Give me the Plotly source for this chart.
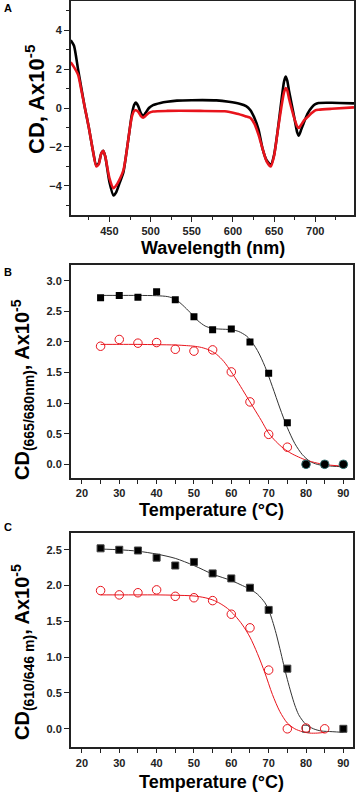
import plotly.graph_objects as go

# ---------------- Panel A: CD spectra ----------------
wl_black = [403, 407, 412, 416, 420, 425, 430, 434, 437, 440, 442.5, 445, 450, 455, 458, 462, 467, 470, 474, 477,
            480, 482, 485, 488, 491, 494, 498, 503, 512, 520, 532, 550, 580, 595, 608, 616, 621, 626, 631, 636,
            641, 646, 650, 655, 659, 662, 664, 666, 668, 671, 675, 678, 680, 683, 687, 691, 696, 700, 704, 720, 747]
cd_black = [3.48, 3.2, 1.97, 1.0, 0.05, -1.0, -2.2, -2.95, -2.85, -2.35, -2.2, -2.5, -3.8, -4.5, -4.35, -3.9, -3.3,
            -2.5, -1.3, -0.4, 0.15, 0.28, 0.1, -0.25, -0.42, -0.25, 0.0, 0.15, 0.26, 0.32, 0.38, 0.4, 0.39, 0.32,
            0.22, 0.1, -0.1, -0.5, -1.1, -2.1, -2.7, -2.92, -2.4, -0.95, 0.43, 1.35, 1.62, 1.4, 0.9, 0.26, -0.6,
            -1.25, -1.42, -1.1, -0.65, -0.26, 0.05, 0.2, 0.26, 0.27, 0.24]

wl_red = [403, 407, 412, 416, 420, 425, 430, 434, 437, 440, 442.5, 445, 450, 455, 458, 462, 467, 470, 474, 477,
          480, 482, 485, 488, 491, 494, 498, 503, 520, 560, 590, 605, 615, 621, 626, 631, 636, 641, 646, 650,
          655, 659, 662, 664, 666, 668, 671, 675, 678, 680, 683, 687, 691, 696, 700, 704, 720, 747]
cd_red = [2.35, 2.1, 1.71, 0.9, 0.05, -1.0, -2.2, -3.0, -2.9, -2.35, -2.2, -2.5, -3.6, -4.12, -4.0, -3.7, -3.2,
          -2.5, -1.3, -0.5, -0.15, -0.12, -0.2, -0.4, -0.5, -0.4, -0.25, -0.18, -0.15, -0.15, -0.17, -0.3,
          -0.42, -0.5, -0.8, -1.37, -2.1, -2.75, -3.0, -2.45, -1.0, 0.1, 0.8, 1.03, 0.9, 0.5, 0.0, -0.6, -0.95,
          -1.03, -0.85, -0.6, -0.45, -0.25, -0.12, -0.09, -0.04, 0.03]

# ---------------- Panel B: CD(665/680nm) vs temperature ----------------
temp = [25, 30, 35, 40, 45, 50, 55, 60, 65, 70, 75, 80, 85, 90]
b_black = [2.72, 2.76, 2.73, 2.82, 2.69, 2.41, 2.20, 2.21, 2.00, 1.49, 0.68, 0.0, 0.0, 0.0]
b_red = [1.93, 2.04, 1.98, 1.99, 1.88, 1.85, 1.87, 1.51, 1.02, 0.49, 0.28, 0.0, 0.0, 0.0]

b_fit_black_t = [25, 30, 35, 40, 43, 45, 47, 49, 51, 53, 55, 57, 60, 62, 64, 65, 67, 69, 71, 73, 75, 77, 79, 81,
                 83, 85, 87, 90]
b_fit_black = [2.76, 2.76, 2.76, 2.755, 2.74, 2.70, 2.6, 2.48, 2.35, 2.26, 2.22, 2.21, 2.20, 2.17, 2.1, 2.04,
               1.86, 1.6, 1.27, 0.92, 0.6, 0.34, 0.16, 0.05, 0.0, -0.02, -0.03, -0.04]
b_fit_red_t = [25, 30, 35, 40, 45, 48, 50, 52, 54, 56, 58, 60, 62, 64, 66, 68, 70, 72, 74, 76, 78, 80, 83, 86, 90]
b_fit_red = [1.96, 1.96, 1.96, 1.955, 1.95, 1.94, 1.93, 1.91, 1.87, 1.8, 1.68, 1.51, 1.32, 1.12, 0.92, 0.72,
             0.51, 0.37, 0.26, 0.18, 0.12, 0.07, 0.02, -0.01, -0.03]

# ---------------- Panel C: CD(610/646 nm) vs temperature ----------------
c_black_t = [25, 30, 35, 40, 45, 50, 55, 60, 65, 70, 75, 80, 90]
c_black = [2.52, 2.50, 2.49, 2.39, 2.28, 2.33, 2.17, 2.10, 1.97, 1.66, 0.84, 0.0, 0.0]
c_red_t = [25, 30, 35, 40, 45, 50, 55, 60, 65, 70, 75, 80, 85]
c_red = [1.93, 1.87, 1.90, 1.94, 1.85, 1.83, 1.79, 1.60, 1.41, 0.82, 0.0, 0.01, 0.0]

c_fit_black_t = [25, 30, 35, 40, 45, 50, 55, 60, 63, 65, 67, 69, 70, 71, 72, 73, 74, 75, 76, 77, 78, 79, 80,
                 82, 84, 87, 90]
c_fit_black = [2.51, 2.50, 2.48, 2.44, 2.38, 2.28, 2.16, 2.07, 2.0, 1.95, 1.88, 1.76, 1.66, 1.51, 1.33, 1.12,
               0.9, 0.69, 0.5, 0.33, 0.2, 0.12, 0.06, 0.0, -0.03, -0.04, -0.05]
c_fit_red_t = [25, 30, 35, 40, 45, 50, 53, 55, 57, 59, 61, 63, 65, 67, 69, 71, 73, 75, 77, 79, 81, 83, 85]
c_fit_red = [1.87, 1.87, 1.87, 1.87, 1.865, 1.855, 1.83, 1.80, 1.75, 1.68, 1.58, 1.45, 1.28, 1.05, 0.78, 0.48,
             0.24, 0.08, 0.0, -0.04, -0.06, -0.06, -0.05]

W, H = 356, 792
FONT = "Liberation Sans"
RED = "#e8141c"

def dom_x(a, b):
    return [a / W, b / W]

def dom_y(top, bottom):
    return [1 - bottom / H, 1 - top / H]

fig = go.Figure()

# Panel A traces
fig.add_trace(go.Scatter(x=wl_black, y=cd_black, mode="lines", xaxis="x", yaxis="y",
                         line=dict(color="black", width=2.6, shape="spline", smoothing=0.6), showlegend=False))
fig.add_trace(go.Scatter(x=wl_red, y=cd_red, mode="lines", xaxis="x", yaxis="y",
                         line=dict(color=RED, width=2.6, shape="spline", smoothing=0.6), showlegend=False))

# Panel B traces
fig.add_trace(go.Scatter(x=b_fit_black_t, y=b_fit_black, mode="lines", xaxis="x2", yaxis="y2",
                         line=dict(color="#333333", width=1, shape="spline", smoothing=0.8), showlegend=False))
fig.add_trace(go.Scatter(x=b_fit_red_t, y=b_fit_red, mode="lines", xaxis="x2", yaxis="y2",
                         line=dict(color=RED, width=1, shape="spline", smoothing=0.8), showlegend=False))
fig.add_trace(go.Scatter(x=temp, y=b_black, mode="markers", xaxis="x2", yaxis="y2",
                         marker=dict(symbol="square", size=7, color="black"), showlegend=False))
b_red_fill = ["rgba(0,0,0,0)" if t < 80 else "black" for t in temp]
b_red_edge = [RED if t < 80 else "#2f7070" for t in temp]
fig.add_trace(go.Scatter(x=temp, y=b_red, mode="markers", xaxis="x2", yaxis="y2",
                         marker=dict(symbol="circle", size=8.5, color=b_red_fill,
                                     line=dict(color=b_red_edge, width=1)), showlegend=False))

# Panel C traces
fig.add_trace(go.Scatter(x=c_fit_black_t, y=c_fit_black, mode="lines", xaxis="x3", yaxis="y3",
                         line=dict(color="#333333", width=1, shape="spline", smoothing=0.8), showlegend=False))
fig.add_trace(go.Scatter(x=c_fit_red_t, y=c_fit_red, mode="lines", xaxis="x3", yaxis="y3",
                         line=dict(color=RED, width=1, shape="spline", smoothing=0.8), showlegend=False))
c_black_sym = ["square-open" if t == 80 else "square" for t in c_black_t]
c_black_col = ["#555555" if t == 80 else "black" for t in c_black_t]
fig.add_trace(go.Scatter(x=c_black_t, y=c_black, mode="markers", xaxis="x3", yaxis="y3",
                         marker=dict(symbol=c_black_sym, size=7, color=c_black_col, line=dict(width=1)),
                         showlegend=False))
fig.add_trace(go.Scatter(x=c_red_t, y=c_red, mode="markers", xaxis="x3", yaxis="y3",
                         marker=dict(symbol="circle-open", size=8.5, color=RED, line=dict(width=1)),
                         showlegend=False))

tickfont = dict(family=FONT, size=11, color="#222222", weight="bold")
common = dict(showline=True, linecolor="#222222", linewidth=1.5, mirror=True, ticks="outside",
              ticklen=5, tickwidth=1.2, tickcolor="#222222", showgrid=False, zeroline=False,
              tickfont=tickfont)

fig.update_layout(
    width=W, height=H, margin=dict(l=0, r=0, t=0, b=0),
    paper_bgcolor="white", plot_bgcolor="white",
    xaxis=dict(domain=dom_x(70.7, 354), range=[403, 747], anchor="y", tickmode="linear", tick0=450, dtick=50,
               minor=dict(ticks="outside", ticklen=3, tick0=425, dtick=50, tickcolor="#222222"), **common),
    yaxis=dict(domain=dom_y(1, 215), range=[-5.5, 5.5], anchor="x", tickmode="linear", tick0=-4, dtick=2,
               minor=dict(ticks="outside", ticklen=3, tick0=-5, dtick=2, tickcolor="#222222"), **common),
    xaxis2=dict(domain=dom_x(70.7, 352.7), range=[17, 92.5], anchor="y2", tickmode="linear", tick0=20, dtick=10,
                minor=dict(ticks="outside", ticklen=5, tick0=25, dtick=10, tickcolor="#222222"), **common),
    yaxis2=dict(domain=dom_y(265, 477.5), range=[-0.215, 3.257], anchor="x2", tickmode="linear", tick0=0,
                dtick=0.5, tickformat=".1f", **common),
    xaxis3=dict(domain=dom_x(70.7, 352.7), range=[17, 92.5], anchor="y3", tickmode="linear", tick0=20, dtick=10,
                minor=dict(ticks="outside", ticklen=5, tick0=25, dtick=10, tickcolor="#222222"), **common),
    yaxis3=dict(domain=dom_y(533.3, 746.7), range=[-0.25, 2.73], anchor="x3", tickmode="linear", tick0=0,
                dtick=0.5, tickformat=".1f", **common),
)

xtitle_font = dict(family=FONT, size=18, color="black", weight="bold")
ytitleA_font = dict(family=FONT, size=22, color="black", weight="bold")
ytitle_font = dict(family=FONT, size=20, color="black", weight="bold")
label_font = dict(family=FONT, size=11, color="black", weight="bold")
ann = []
# panel letters
for txt, ypx in [("A", 8), ("B", 272), ("C", 527)]:
    ann.append(dict(text=txt, x=2 / W, y=1 - ypx / H, xref="paper", yref="paper", xanchor="left",
                    yanchor="middle", showarrow=False, font=label_font))
# x titles
ann.append(dict(text="Wavelength (nm)", x=212.5 / W, y=1 - 248 / H, xref="paper", yref="paper",
                xanchor="center", yanchor="middle", showarrow=False, font=xtitle_font))
for ypx in [510, 782]:
    ann.append(dict(text="Temperature (\u00b0C)", x=211.7 / W, y=1 - ypx / H, xref="paper", yref="paper",
                    xanchor="center", yanchor="middle", showarrow=False, font=xtitle_font))
# y titles
ann.append(dict(text="CD, Ax10<sup>-5</sup>", x=35 / W, y=1 - 99 / H, xref="paper", yref="paper",
                textangle=-90, xanchor="center", yanchor="middle", showarrow=False, font=ytitleA_font))
ann.append(dict(text="CD<sub>(665/680nm)</sub>, Ax10<sup>-5</sup>", x=22 / W, y=1 - 390 / H, xref="paper",
                yref="paper", textangle=-90, xanchor="center", yanchor="middle", showarrow=False,
                font=ytitle_font))
ann.append(dict(text="CD<sub>(610/646 m)</sub>, Ax10<sup>-5</sup>", x=22 / W, y=1 - 652 / H, xref="paper",
                yref="paper", textangle=-90, xanchor="center", yanchor="middle", showarrow=False,
                font=ytitle_font))
fig.update_layout(annotations=ann)

fig.write_html("out.html", config={"displayModeBar": False},
               post_script="document.body.style.margin='0';document.body.style.overflow='hidden';")
